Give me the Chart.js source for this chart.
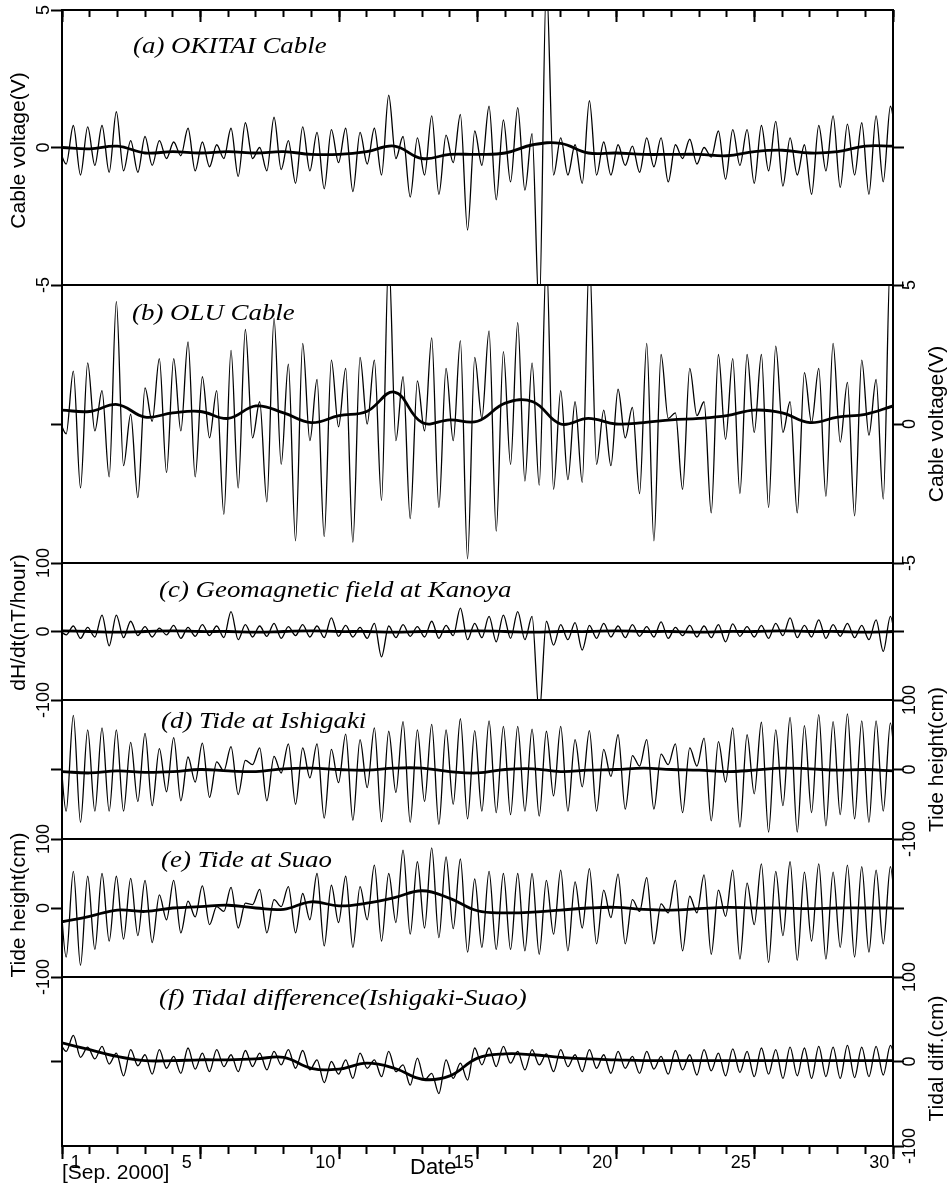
<!DOCTYPE html>
<html>
<head>
<meta charset="utf-8">
<script src="https://cdn.jsdelivr.net/npm/chart.js@4.4.0/dist/chart.umd.min.js"></script>
<style>
  body { margin: 0; background: #fff; }
  #wrap { position: relative; width: 952px; height: 1189px; overflow: hidden; }
  #wrap canvas { position: absolute; left: 0; }
  .txt { position: absolute; font-family: "Liberation Sans", Arial, sans-serif; color: #000; line-height: 1; white-space: nowrap; }
</style>
</head>
<body>
<div id="wrap">
  <canvas id="pa"></canvas>
  <canvas id="pb"></canvas>
  <canvas id="pc"></canvas>
  <canvas id="pd"></canvas>
  <canvas id="pe"></canvas>
  <canvas id="pf"></canvas>
  <div class="txt" style="left:62px;top:1161px;font-size:21px;">[Sep. 2000]</div>
  <div class="txt" style="left:410px;top:1156px;font-size:22px;">Date</div>
</div>
<script>
// raw records are stored as their turning points, one every half tide (12.42 h / 2)
var tideStep = 0.25875;
var firstTurnDay = -0.108;

var filterDays = [0, 1, 2, 3, 4, 5, 6, 7, 8, 9, 10, 11, 12, 13, 14, 15, 16, 17, 18, 19, 20, 21, 22, 23, 24, 25, 26, 27, 28, 29, 30];
var dayTicks = [0, 1, 2, 3, 4, 5, 6, 7, 8, 9, 10, 11, 12, 13, 14, 15, 16, 17, 18, 19, 20, 21, 22, 23, 24, 25, 26, 27, 28, 29, 30];
var majorDayTicks = [0, 5, 10, 15, 20, 25, 30];
var dateLabels = ['1', '5', '10', '15', '20', '25', '30'];
var voltTicks = [-5, 0, 5];
var tideTicks = [-100, 0, 100];
var zeroTick = [0];

// (a) OKITAI cable voltage (V)
var okitaiHigh = [0, 0.8, 0.75, 0.8, 1.3, 0.25, 0.4, 0.25, 0.2, 0.7, 0.2, 0.1, 0.7, 0.9, 0.0, 1.1, 0.25, 0.75, 0.55, 0.65,
  0.7, 0.55, 0.7, 1.9, 0.4, 0.35, 1.15, 0.45, 1.2, 0.6, 1.5, 1.0, 1.45, 0.5, 6, 0.35, 0.1, 1.7, 0.2, 0.1,
  0.05, 0.35, 0.35, 0.1, 0.3, 0.0, 0.6, 0.65, 0.65, 0.8, 0.95, 0.35, 0.1, 0.8, 1.15, 0.85, 0.9, 1.15, 1.5];
var okitaiLow = [-0.6, -1.0, -0.65, -0.9, -0.85, -0.9, -0.65, -0.4, -0.3, -0.85, -0.7, -0.4, -1.05, -0.4, -0.85, -0.8, -1.3, -0.85, -1.5, -0.55,
  -1.6, -0.6, -1.0, -0.4, -1.8, -1.0, -1.7, -0.55, -3.0, -0.65, -1.9, -1.25, -1.55, -6, -1.0, -1.0, -1.3, -1.0, -1.0, -0.65,
  -0.9, -0.7, -1.25, -0.4, -0.6, -0.35, -1.15, -0.65, -1.3, -0.85, -1.4, -1.0, -1.7, -0.85, -1.45, -1.0, -1.7, -1.25, -0.3];
var okitaiFiltered = [0, -0.05, 0.05, -0.2, -0.15, -0.2, -0.15, -0.2, -0.15, -0.25, -0.25, -0.15, 0.05, -0.4, -0.25, -0.25,
  -0.2, 0.1, 0.15, -0.2, -0.2, -0.25, -0.25, -0.25, -0.3, -0.15, -0.1, -0.2, -0.15, 0.05, 0.05];

// (b) OLU cable voltage (V)
var oluHigh = [0.2, 1.9, 2.2, 1.2, 4.4, 0.35, 1.3, 2.35, 2.35, 2.95, 1.7, 1.2, 2.65, 3.4, 0.8, 3.8, 2.15, 2.9, 1.6, 2.3,
  2.0, 2.4, 2.3, 6, 1.7, 1.55, 3.1, 2.0, 3.0, 2.4, 3.35, 2.6, 3.65, 2.2, 6, 1.2, 0.8, 6, 0.5, 1.25,
  0.6, 2.9, 2.5, 0.4, 2.0, 0.8, 2.5, 2.35, 2.5, 2.5, 2.8, 0.8, 1.85, 2.0, 2.9, 1.5, 2.3, 1.6, 6];
var oluLow = [-0.35, -2.3, -0.25, -1.9, -1.5, -2.65, 0.1, -1.75, -0.25, -1.9, -0.5, -3.25, -2.3, -0.5, -2.8, -1.45, -4.2, -0.6, -4.05, -0.1,
  -4.25, 0.0, -2.75, -0.6, -3.4, -0.25, -3.0, -0.6, -4.85, 0.2, -3.85, -1.45, -2.05, -2.2, -2.35, -2.0, -2.1, -1.45, -1.5, -0.5,
  -2.5, -4.2, 0.2, -2.35, 0.3, -3.2, -0.55, -2.5, -0.3, -3.0, -0.3, -3.2, 0.05, -2.6, -0.65, -3.3, -0.4, -2.7, 0.5];
var oluFiltered = [0.5, 0.45, 0.7, 0.25, 0.4, 0.45, 0.2, 0.65, 0.4, 0.05, 0.3, 0.45, 1.15, 0.05, 0.15, 0.1,
  0.75, 0.8, 0.0, 0.2, 0.0, 0.05, 0.15, 0.2, 0.3, 0.5, 0.4, 0.05, 0.25, 0.35, 0.65];

// (c) dH/dt at Kanoya (nT/hour)
var kanoyaHigh = [3, 8, 6, 24, 24, 15, 7, 5, 9, 6, 10, 8, 29, 10, 8, 12, 7, 10, 8, 20,
  9, 6, 12, 8, 10, 7, 15, 9, 34, 12, 22, 24, 29, 22, 15, 10, 13, 9, 12, 8,
  10, 7, 14, 6, 9, 8, 10, 11, 7, 9, 12, 20, 9, 17, 10, 12, 9, 17, 22];
var kanoyaLow = [-5, -10, -8, -21, -9, -6, -8, -5, -10, -7, -6, -9, -12, -8, -7, -10, -6, -8, -9, -7,
  -8, -10, -37, -9, -7, -8, -10, -6, -12, -9, -15, -10, -12, -120, -20, -12, -27, -10, -8, -9,
  -7, -8, -10, -6, -8, -9, -15, -7, -8, -10, -6, -9, -8, -10, -7, -9, -12, -29, -40];
var kanoyaFiltered = [1, 0, -1, 0, 1, 0, 0, -1, 0, 1, 0, 0, -1, 0, 0, 1, 0, -1, 0, 0, 1, 0, 0, -1, 0, 0, 1, 0, 0, -1, 0];

// (d) tide at Ishigaki (cm)
var ishigakiHigh = [50, 78, 57, 60, 57, 39, 52, 30, 46, 18, 38, 11, 33, 13, 31, 19, 37, 31, 37, 29,
  51, 43, 60, 55, 69, 57, 65, 57, 73, 56, 70, 62, 62, 58, 55, 62, 43, 56, 29, 50,
  20, 43, 22, 37, 31, 45, 40, 60, 50, 68, 57, 75, 63, 79, 69, 80, 70, 70, 67];
var ishigakiLow = [-60, -76, -60, -60, -60, -46, -52, -32, -45, -18, -40, -2, -36, 7, -45, -5, -50, -12, -70, -19,
  -73, -26, -75, -33, -76, -46, -79, -50, -71, -60, -62, -65, -60, -67, -38, -60, -25, -60, -10, -57,
  5, -57, 7, -62, 5, -74, -18, -83, -35, -90, -52, -90, -62, -81, -65, -71, -76, -60, -60];
var ishigakiFiltered = [-3, -5, -2, -4, -3, 0, -2, -3, 1, 2, 0, -1, 2, 2, -3, -5, 0, 1, -3, -1, 0, 2, 0, -1, -3, -1, 2, 1, -1, 0, -2];

// (e) tide at Suao (cm)
var suaoHigh = [45, 53, 46, 50, 46, 43, 40, 19, 40, 10, 32, 2, 30, 7, 27, 12, 31, 21, 50, 33,
  46, 31, 62, 50, 84, 67, 87, 74, 71, 42, 53, 50, 50, 50, 40, 55, 38, 57, 26, 49,
  12, 44, 6, 40, 17, 48, 26, 55, 36, 64, 53, 67, 52, 64, 52, 62, 60, 55, 60];
var suaoLow = [-71, -83, -60, -48, -45, -40, -50, -17, -36, -13, -24, -5, -29, 5, -36, 2, -36, -17, -55, -21,
  -57, -17, -48, -21, -38, -29, -43, -30, -64, -57, -60, -60, -62, -67, -38, -62, -29, -52, -14, -52,
  -5, -52, -7, -62, -7, -67, -12, -74, -24, -79, -40, -76, -48, -74, -57, -71, -64, -52, -60];
var suaoFiltered = [-20, -12, -3, -5, 0, 2, 4, 0, -2, 9, 3, 7, 15, 25, 14, -4, -7, -6, -3, 0, 1, -2, -3, -1, 1, 0, 0, -1, 0, 0, 0];

// (f) tidal difference Ishigaki - Suao (cm)
var diffHigh = [24, 31, 17, 18, 10, 14, 8, 14, 6, 16, 10, 14, 8, 13, 10, 12, 14, 13, 2, 0,
  2, 10, 2, 12, -4, 4, -14, 2, -2, 16, 16, 18, 12, 14, 9, 14, 8, 14, 8, 12,
  6, 12, 6, 13, 8, 14, 10, 15, 12, 16, 14, 17, 16, 18, 17, 19, 17, 18, 19];
var diffLow = [12, 5, 3, -3, -17, -5, -15, -8, -14, -9, -12, -6, -12, -6, -10, -4, -8, -10, -25, -15,
  -20, -8, -18, -12, -28, -22, -38, -20, -22, -4, -6, -2, -10, -4, -12, -6, -12, -8, -14, -8,
  -14, -9, -15, -10, -16, -11, -17, -13, -18, -15, -20, -17, -20, -18, -20, -19, -18, -16, -15];
var diffFiltered = [22, 14, 6, 1, 1, 2, 2, 3, 5, -8, -9, -2, -8, -21, -17, 4, 9, 8, 5, 3, 2, 1, 1, 1, 1, 1, 1, 1, 1, 1, 1];

Chart.defaults.font.family = '"Liberation Sans", Arial, sans-serif';
Chart.defaults.color = '#000';

function turningPoints(highs, lows) {
  var pts = [];
  for (var i = 0; i < highs.length; i++) {
    pts.push({x: firstTurnDay + 2 * i * tideStep, y: highs[i]});
    pts.push({x: firstTurnDay + (2 * i + 1) * tideStep, y: lows[i]});
  }
  return pts;
}

function dailyPoints(vals) {
  return vals.map(function (v, i) { return {x: filterDays[i], y: v}; });
}

function fixTicks(values) {
  return function (scale) {
    scale.ticks = values.map(function (v) { return {value: v}; });
  };
}
function fixWidth(w) { return function (scale) { scale.width = w; }; }
function fixHeight(h) { return function (scale) { scale.height = h; }; }

var frame = {
  id: 'frame',
  afterDraw: function (chart) {
    var a = chart.chartArea, ctx = chart.ctx;
    ctx.save();
    ctx.lineWidth = 2;
    ctx.strokeStyle = '#000';
    ctx.strokeRect(a.left, a.top, a.right - a.left, a.bottom - a.top);
    ctx.restore();
  }
};

var panelText = {
  id: 'panelText',
  afterDraw: function (chart, args, o) {
    var a = chart.chartArea, ctx = chart.ctx;
    ctx.save();
    ctx.fillStyle = '#000';
    ctx.font = 'italic 24px "Liberation Serif", serif';
    ctx.textBaseline = 'alphabetic';
    ctx.textAlign = 'left';
    // the printed caption face is wider than Times, so stretch it a little
    ctx.save();
    ctx.translate(o.labelX, a.top + o.labelY);
    ctx.scale(1.12, 1);
    ctx.fillText(o.label, 0, 0);
    ctx.restore();
    ctx.font = '21px "Liberation Sans", Arial, sans-serif';
    ctx.translate(o.titleX, (a.top + a.bottom) / 2 + o.titleShift);
    ctx.rotate(-Math.PI / 2);
    ctx.textAlign = 'center';
    ctx.textBaseline = 'middle';
    ctx.fillText(o.title, 0, 0);
    ctx.restore();
  }
};

var LEFT = 62, RIGHT = 59, MARGIN = 30;

function tickAxis(position, values, len) {
  return {
    type: 'linear', position: position, min: 0, max: 30,
    afterBuildTicks: fixTicks(values),
    afterFit: fixHeight(0),
    border: {display: false},
    grid: {drawOnChartArea: false, tickLength: len, tickWidth: 2, tickColor: '#000'},
    ticks: {display: false}
  };
}

function makePanel(p) {
  var canvas = document.getElementById(p.id);
  var bottomRoom = p.dateAxis ? 70 : MARGIN;
  canvas.width = 952;
  canvas.height = p.height + MARGIN + bottomRoom;
  canvas.style.top = (p.top - MARGIN) + 'px';
  var other = p.side === 'left' ? 'right' : 'left';
  var tide = p.range === 100;
  var scales = {
    x: {type: 'linear', min: 0, max: 30, display: false},
    y: {
      type: 'linear', position: p.side, min: -p.range, max: p.range,
      afterBuildTicks: fixTicks(p.ticks),
      afterFit: fixWidth(p.side === 'left' ? LEFT : RIGHT),
      border: {display: false},
      grid: {drawOnChartArea: false, tickLength: 11, tickWidth: 2, tickColor: '#000'},
      ticks: {
        minRotation: 90, maxRotation: 90, crossAlign: 'center',
        padding: p.side === 'left' ? (tide ? -11 : -1) : (tide ? -12 : -2),
        font: {size: 18}
      }
    },
    y2: {
      type: 'linear', position: other, min: -p.range, max: p.range,
      afterBuildTicks: fixTicks(zeroTick),
      afterFit: fixWidth(other === 'left' ? LEFT : RIGHT),
      border: {display: false},
      grid: {drawOnChartArea: false, tickLength: 11, tickWidth: 2, tickColor: '#000'},
      ticks: {display: false}
    }
  };
  if (p.topTicks) {
    scales.xTopMinor = tickAxis('top', dayTicks, -7);
    scales.xTopMajor = tickAxis('top', majorDayTicks, -12);
  }
  if (p.dateAxis) {
    scales.xMinor = tickAxis('bottom', dayTicks, 8);
    scales.xMajor = tickAxis('bottom', majorDayTicks, 13);
    scales.xLab = {
      type: 'linear', position: 'bottom', min: 0, max: 30, weight: 10,
      afterBuildTicks: function (scale) {
        scale.ticks = dateLabels.map(function (l) { return {value: Number(l) - 0.5}; });
      },
      afterFit: fixHeight(40),
      border: {display: false},
      grid: {display: false, drawTicks: false},
      ticks: {
        autoSkip: false, maxRotation: 0, padding: 6, font: {size: 18},
        callback: function (v) { return String(v + 0.5); }
      }
    };
  }
  return new Chart(canvas.getContext('2d'), {
    type: 'line',
    data: {
      datasets: [{
        data: turningPoints(p.high, p.low),
        borderColor: '#000', borderWidth: 1.3, pointRadius: 0,
        cubicInterpolationMode: 'monotone', clip: 0
      }, {
        data: dailyPoints(p.filtered),
        borderColor: '#000', borderWidth: 2.8, pointRadius: 0,
        tension: 0.4, clip: 0
      }]
    },
    options: {
      responsive: false,
      animation: false,
      layout: {padding: {top: MARGIN, bottom: p.dateAxis ? 0 : MARGIN, left: 0, right: 0}},
      scales: scales,
      plugins: {
        legend: {display: false},
        tooltip: {enabled: false},
        panelText: {
          label: p.label, labelX: p.labelX, labelY: p.labelY,
          title: p.title, titleX: p.side === 'left' ? 19 : 937, titleShift: p.titleShift
        }
      }
    },
    plugins: [frame, panelText]
  });
}

makePanel({id: 'pa', top: 10, height: 275, side: 'left', range: 5, ticks: voltTicks,
  high: okitaiHigh, low: okitaiLow, filtered: okitaiFiltered, topTicks: true,
  label: '(a) OKITAI Cable', labelX: 133, labelY: 43, title: 'Cable voltage(V)', titleShift: 3});
makePanel({id: 'pb', top: 285, height: 278, side: 'right', range: 5, ticks: voltTicks,
  high: oluHigh, low: oluLow, filtered: oluFiltered,
  label: '(b) OLU Cable', labelX: 132, labelY: 35, title: 'Cable voltage(V)', titleShift: 0});
makePanel({id: 'pc', top: 563, height: 137, side: 'left', range: 100, ticks: tideTicks,
  high: kanoyaHigh, low: kanoyaLow, filtered: kanoyaFiltered,
  label: '(c) Geomagnetic field at Kanoya', labelX: 159, labelY: 34, title: 'dH/dt(nT/hour)', titleShift: -9});
makePanel({id: 'pd', top: 700, height: 139, side: 'right', range: 100, ticks: tideTicks,
  high: ishigakiHigh, low: ishigakiLow, filtered: ishigakiFiltered,
  label: '(d) Tide at Ishigaki', labelX: 161, labelY: 28, title: 'Tide height(cm)', titleShift: -10});
makePanel({id: 'pe', top: 839, height: 138, side: 'left', range: 100, ticks: tideTicks,
  high: suaoHigh, low: suaoLow, filtered: suaoFiltered,
  label: '(e) Tide at Suao', labelX: 161, labelY: 28, title: 'Tide height(cm)', titleShift: -3});
makePanel({id: 'pf', top: 977, height: 139, side: 'right', range: 100, ticks: tideTicks,
  high: diffHigh, low: diffLow, filtered: diffFiltered, dateAxis: true,
  label: '(f) Tidal difference(Ishigaki-Suao)', labelX: 159, labelY: 28, title: 'Tidal diff.(cm)', titleShift: -3});
</script>
</body>
</html>
